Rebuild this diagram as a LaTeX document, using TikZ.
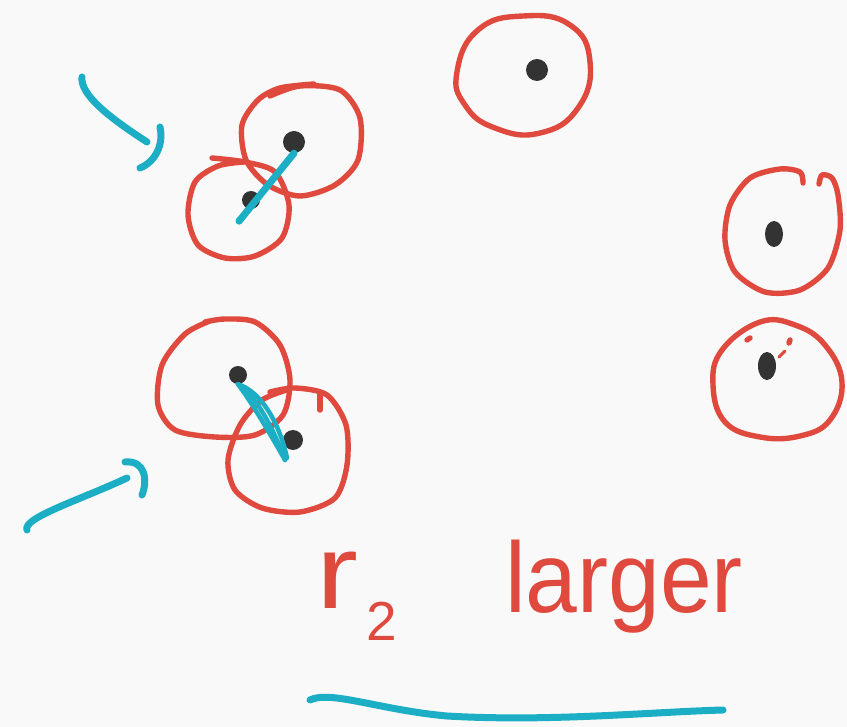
\documentclass[tikz,border=0pt]{standalone}
\usepackage{fontspec}
\setmainfont{Liberation Sans}
\usetikzlibrary{shapes.geometric}
\definecolor{inkred}{HTML}{E0493D}
\definecolor{inkcyan}{HTML}{1BAEC4}
\definecolor{inkdot}{HTML}{333333}
\definecolor{paper}{HTML}{F9F9F9}
\begin{document}
\begin{tikzpicture}[x=1pt,y=-1pt,
  ring/.style={draw=inkred,line width=5.4pt,line cap=round,line join=round},
  pt/.style={circle,fill=inkdot,inner sep=0pt,minimum size=22pt},
  cyanline/.style={draw=inkcyan,line width=7pt,line cap=round,line join=round},
  redtext/.style={text=inkred,inner sep=0pt}]
\fill[paper] (0,0) rectangle (847,727);
\useasboundingbox (0,0) rectangle (847,727);
% dots
\node[pt] (d1) at (537,70) {};
\node[pt] (d2) at (294,142) {};
\node[pt,minimum size=18pt] (d3) at (251,200) {};
\node[pt,ellipse,minimum width=18pt,minimum height=26pt] (d4) at (774,234) {};
\node[pt,ellipse,minimum width=18pt,minimum height=28pt] (d5) at (767,366) {};
\node[pt,minimum size=18pt] (d6) at (238,375) {};
\node[pt,minimum size=20pt] (d7) at (293,440) {};
% circles
\draw[ring] plot[smooth cycle,tension=0.8] coordinates {(457,72) (478,30) (523,16) (570,25) (590,62) (578,108) (540,133) (495,128) (465,105)};
\draw[ring] plot[smooth] coordinates {(270,96) (300,86) (340,90) (360,118) (358,160) (335,185) (300,196) (268,185) (246,160) (242,125) (258,100) (280,88) (314,84)};
\draw[ring] plot[smooth] coordinates {(212,158) (245,162) (275,172) (289,205) (282,238) (255,256) (225,258) (198,245) (188,215) (195,182) (218,166) (244,162)};
\draw[ring] plot[smooth] coordinates {(803,183) (800,172) (780,169) (750,178) (730,205) (725,240) (735,272) (765,292) (800,290) (828,268) (840,230) (838,195) (832,178) (822,175) (819,184)};
\draw[ring] plot[smooth cycle,tension=0.7] coordinates {(760,322) (795,325) (825,345) (842,382) (830,420) (800,436) (760,437) (725,422) (713,385) (722,350)};
\draw[ring] (750,338) -- (747,340);
\draw[ring] (790,340) -- (789,343);
\draw[ring,line width=3pt] (779,357) -- (785,351);
\draw[ring] plot[smooth] coordinates {(205,322) (225,319) (255,322) (280,345) (290,380) (283,415) (255,435) (215,437) (175,430) (158,405) (162,365) (185,334) (210,321)};
\draw[ring] plot[smooth] coordinates {(270,392) (295,388) (327,395) (346,425) (347,465) (335,498) (300,512) (262,508) (235,490) (228,460) (240,425) (262,400) (290,389)};
\draw[ring] (320,395) -- (320,410);
% cyan connectors between dots
\draw[cyanline] (d3.south) ++(-12,12) -- (d2.south);
\draw[cyanline,line width=4.5pt] (d6.south) .. controls (255,395) and (272,425) .. (285,460);
\draw[cyanline,line width=4.5pt] (d6.south) .. controls (262,392) and (280,425) .. (287,458);
\draw[cyanline,line width=4.5pt] (d6.south) .. controls (250,400) and (268,430) .. (285,460);
% arrows
\coordinate (a1s) at (82,77);
\coordinate (a1e) at (147,142);
\draw[cyanline] (a1s) .. controls (80,95) and (110,118) .. (a1e);
\draw[cyanline] (160,127) .. controls (164,145) and (155,162) .. (140,168);
\coordinate (a2s) at (27,530);
\coordinate (a2e) at (127,478);
\draw[cyanline] (a2s) .. controls (22,518) and (80,500) .. (a2e);
\draw[cyanline] (125,462) .. controls (145,460) and (148,480) .. (142,495);
% text
\node[redtext,font=\fontsize{105}{110}\selectfont,anchor=base west,xscale=1.2] (r) at (316,608) {r};
\node[redtext,font=\fontsize{55}{60}\selectfont,anchor=base west] (two) at (366,640) {2};
\node[redtext,font=\fontsize{100}{110}\selectfont,anchor=base west,xscale=0.93] (lg) at (505,612) {larger};
% underline
\draw[cyanline] (310,700) .. controls (330,690) and (380,710) .. (447,716) .. controls (550,722) and (650,712) .. (723,710);
\end{tikzpicture}
\end{document}
